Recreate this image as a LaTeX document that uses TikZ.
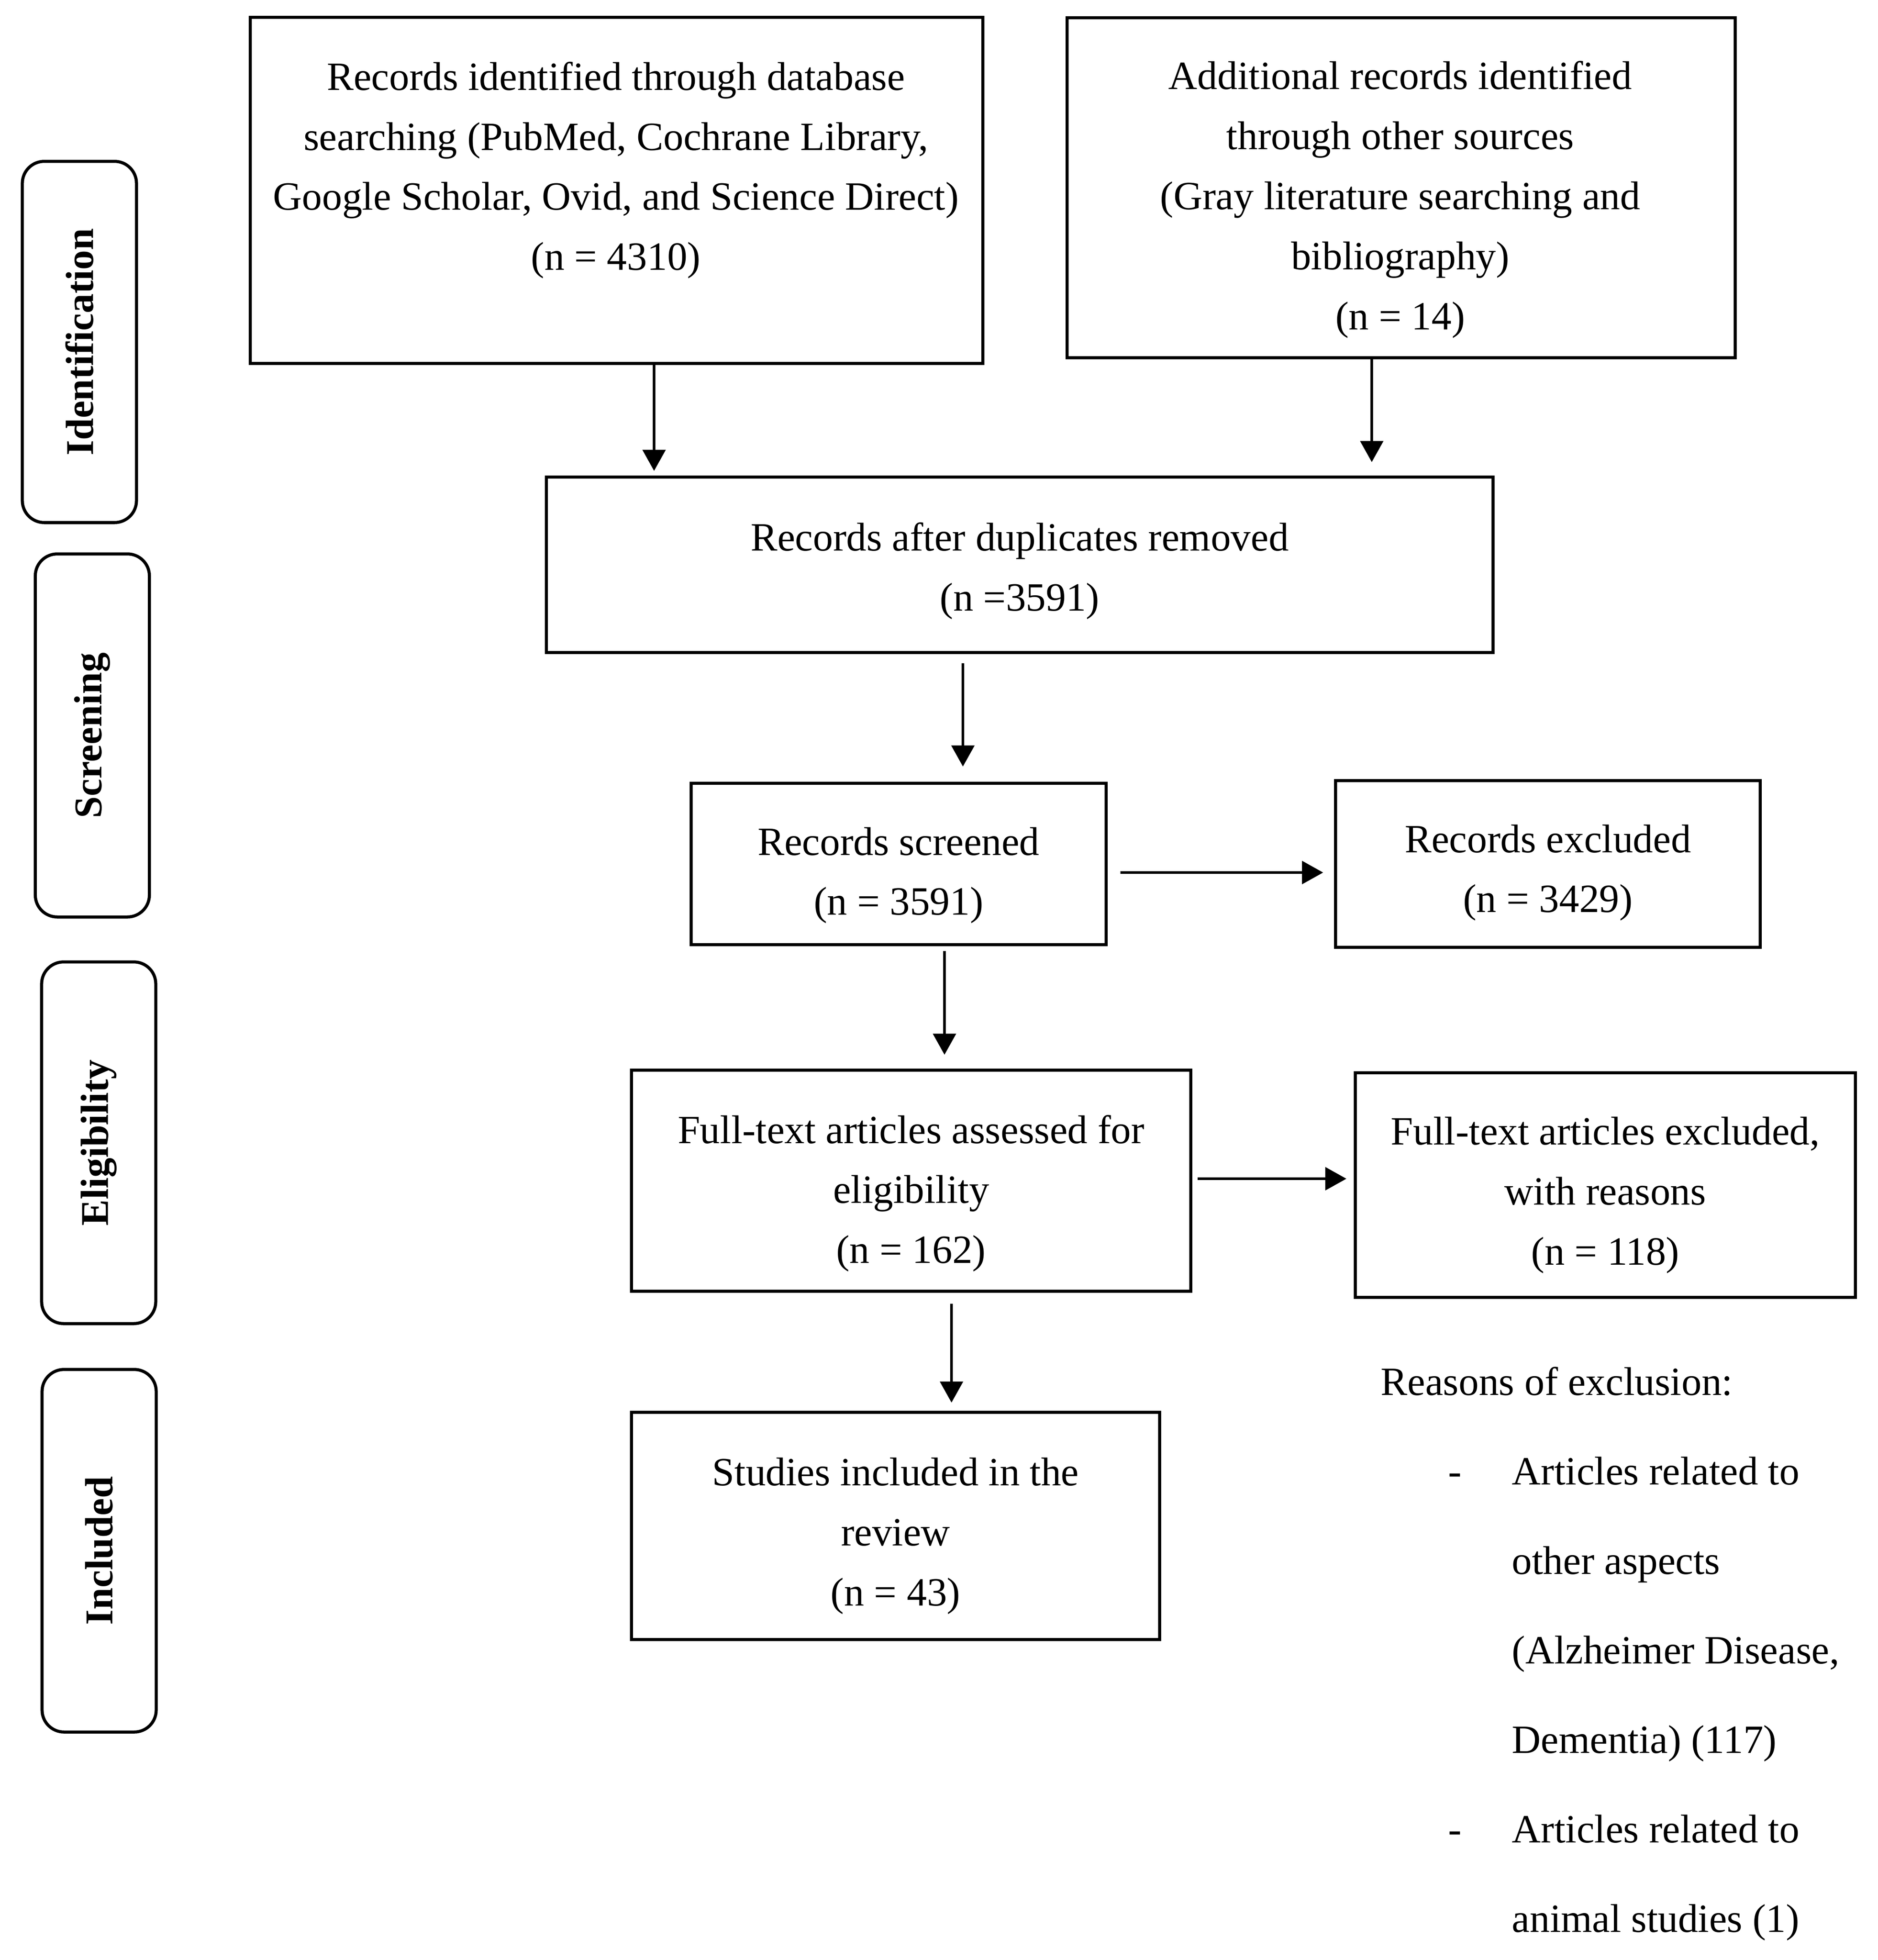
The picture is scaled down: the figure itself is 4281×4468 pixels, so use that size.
\documentclass[tikz,border=0pt]{standalone}
\usepackage{fontspec}
\setmainfont{Liberation Serif}
\usetikzlibrary{arrows.meta}
\newcommand{\boxfont}{\fontsize{26}{38.9}\selectfont}
\newcommand{\notefont}{\fontsize{26}{58}\selectfont}
\newcommand{\stagefont}{\bfseries\fontsize{25.5}{28}\selectfont}
\begin{document}
\begin{tikzpicture}[x=0.01cm,y=-0.01cm,
  box/.style={draw, line width=2pt, inner sep=0pt},
  txt/.style={inner sep=0pt, align=center, font=\boxfont},
  stage/.style={draw, line width=2pt, rounded corners=0.5cm, inner sep=0pt, rotate=90,
    minimum height=2.6cm, font=\stagefont},
  note/.style={inner sep=0pt, anchor=base west, font=\notefont},
  arr/.style={line width=1.6pt, -{Triangle[length=0.48cm,width=0.52cm]}}]
\useasboundingbox (0,0) rectangle (4281,4468);
% stage labels
\node[stage, minimum width=8.23cm] (s1) at (181,779.5) {Identification};
\node[stage, minimum width=8.27cm] (s2) at (210.5,1676.5) {Screening};
\node[stage, minimum width=8.24cm] (s3) at (225,2605) {Eligibility};
\node[stage, minimum width=8.26cm] (s4) at (226,3535) {Included};
% boxes
\node[box, minimum width=16.69cm, minimum height=7.88cm] (A) at (1405.5,434) {};
\node[txt] (At) at (1404,388) {Records identified through database\\searching (PubMed, Cochrane Library,\\Google Scholar, Ovid, and Science Direct)\\(n = 4310)};
\node[box, minimum width=15.22cm, minimum height=7.75cm] (B) at (3194,428) {};
\node[txt] (Bt) at (3192,455) {Additional records identified\\through other sources\\(Gray literature searching and\\bibliography)\\(n = 14)};
\node[box, minimum width=21.57cm, minimum height=3.99cm] (C) at (2324.5,1287.5) {};
\node[txt] (Ct) at (2324.5,1301.5) {Records after duplicates removed\\(n =3591)};
\node[box, minimum width=9.45cm, minimum height=3.67cm] (D) at (2048.5,1969.5) {};
\node[txt] (Dt) at (2048.5,1995.5) {Records screened\\(n = 3591)};
\node[box, minimum width=9.67cm, minimum height=3.79cm] (E) at (3528.5,1969.5) {};
\node[txt] (Et) at (3528.5,1989.5) {Records excluded\\(n = 3429)};
\node[box, minimum width=12.74cm, minimum height=5.03cm] (F) at (2077,2691.5) {};
\node[txt] (Ft) at (2077,2720.5) {Full-text articles assessed for\\eligibility\\(n = 162)};
\node[box, minimum width=11.39cm, minimum height=5.11cm] (G) at (3659.5,2701.5) {};
\node[txt] (Gt) at (3659.5,2724.5) {Full-text articles excluded,\\with reasons\\(n = 118)};
\node[box, minimum width=12.03cm, minimum height=5.17cm] (H) at (2041.5,3478.5) {};
\node[txt] (Ht) at (2041.5,3501.5) {Studies included in the\\review\\(n = 43)};
% reasons
\node[note] (r0) at (3147,3180) {Reasons of exclusion:};
\node[note] (d1) at (3301,3384) {-};
\node[note] (r1) at (3446,3384) {Articles related to};
\node[note] (r2) at (3446,3588) {other aspects};
\node[note] (r3) at (3446,3792) {(Alzheimer Disease,};
\node[note] (r4) at (3446,3996) {Dementia) (117)};
\node[note] (d2) at (3301,4200) {-};
\node[note] (r5) at (3446,4200) {Articles related to};
\node[note] (r6) at (3446,4404) {animal studies (1)};
% arrow columns
\coordinate (xa) at (1491,0);
\coordinate (xb) at (3127,0);
\coordinate (xc) at (2195,0);
\coordinate (xd) at (2153,0);
\coordinate (xf) at (2169,0);
\coordinate (yd) at (0,1989);
\coordinate (yf) at (0,2687);
% arrows
\draw[arr, shorten >=0.11cm] (A.south -| xa) -- (C.north -| xa);
\draw[arr, shorten >=0.31cm] (B.south -| xb) -- (C.north -| xb);
\draw[arr, shorten <=0.21cm, shorten >=0.35cm] (C.south -| xc) -- (D.north -| xc);
\draw[arr, shorten <=0.29cm, shorten >=0.25cm] (D.east |- yd) -- (E.west |- yd);
\draw[arr, shorten <=0.11cm, shorten >=0.32cm] (D.south -| xd) -- (F.north -| xd);
\draw[arr, shorten <=0.12cm, shorten >=0.17cm] (F.east |- yf) -- (G.west |- yf);
\draw[arr, shorten <=0.25cm, shorten >=0.19cm] (F.south -| xf) -- (H.north -| xf);
\end{tikzpicture}
\end{document}
